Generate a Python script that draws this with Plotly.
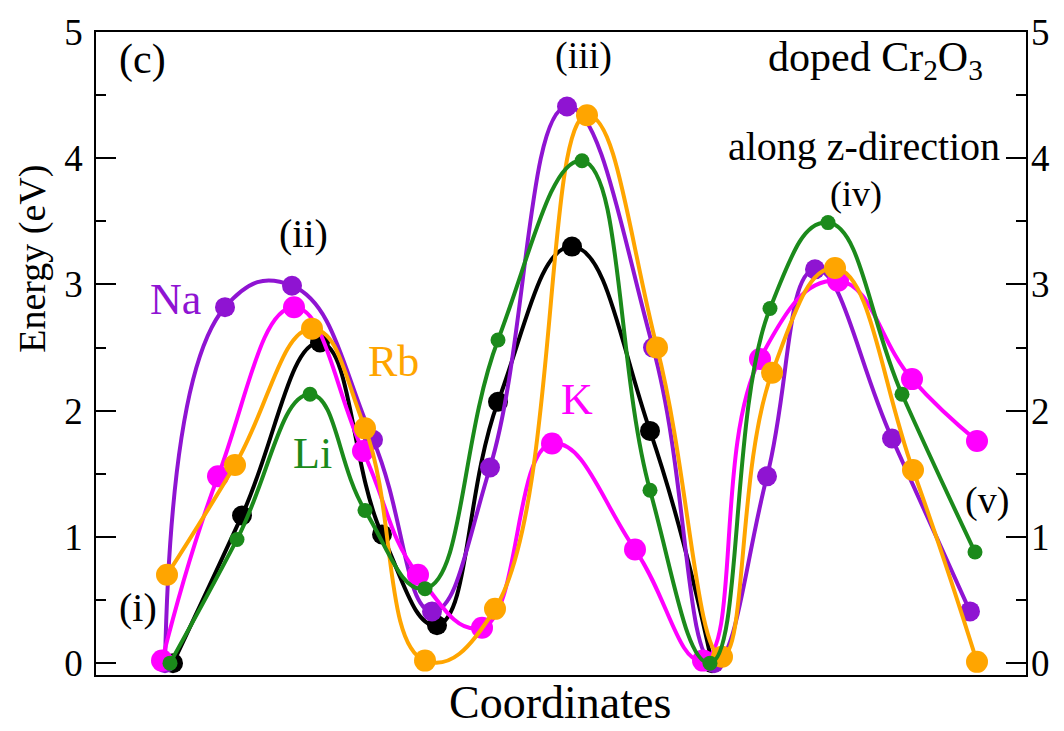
import plotly.graph_objects as go

# ---- data (reaction coordinate in arbitrary units, energy in eV) ----
black_x = [0.77, 1.46, 2.24, 2.86, 3.41, 4.02, 4.76, 5.54, 6.16]
black_y = [0.00, 1.17, 2.54, 1.02, 0.30, 2.07, 3.30, 1.84, 0.00]

na_x = [0.69, 1.29, 1.96, 2.77, 3.36, 3.94, 4.71, 5.57, 6.18, 6.71, 7.19, 7.96, 8.74]
na_y = [0.00, 2.82, 2.99, 1.77, 0.41, 1.55, 4.41, 2.50, 0.00, 1.48, 3.12, 1.78, 0.41]

k_x = [0.66, 1.22, 1.98, 2.67, 3.22, 3.86, 4.56, 5.39, 6.07, 6.64, 7.42, 8.16, 8.81]
k_y = [0.02, 1.48, 2.82, 1.68, 0.70, 0.28, 1.74, 0.90, 0.02, 2.41, 3.03, 2.25, 1.76]

rb_x = [0.71, 1.39, 2.16, 2.69, 3.29, 3.99, 4.91, 5.61, 6.26, 6.76, 7.39, 8.17, 8.81]
rb_y = [0.70, 1.57, 2.65, 1.86, 0.02, 0.43, 4.34, 2.50, 0.05, 2.30, 3.13, 1.53, 0.01]

li_x = [0.74, 1.41, 2.14, 2.69, 3.29, 4.02, 4.86, 5.54, 6.14, 6.74, 7.32, 8.06, 8.79]
li_y = [0.00, 0.98, 2.13, 1.21, 0.59, 2.56, 3.98, 1.37, 0.00, 2.81, 3.49, 2.13, 0.88]

y_ticks = [0, 1, 2, 3, 4, 5]
y_range = [-0.094, 5.0]
x_range = [0.0, 9.30]

FONT = "Liberation Serif, Times New Roman, serif"
C_BLACK = "#000000"
C_NA = "#8f14d2"
C_K = "#ff00ff"
C_RB = "#ffa500"
C_LI = "#1b8a1b"

series = [
    ("undoped", black_x, black_y, C_BLACK, 20),
    ("Na", na_x, na_y, C_NA, 20),
    ("K", k_x, k_y, C_K, 22),
    ("Rb", rb_x, rb_y, C_RB, 22),
    ("Li", li_x, li_y, C_LI, 15),
]

fig = go.Figure()
for name, xs, ys, col, msize in series:
    fig.add_trace(go.Scatter(
        x=xs, y=ys, mode="lines+markers", name=name,
        line=dict(color=col, width=4, shape="spline", smoothing=1.3),
        marker=dict(color=col, size=msize),
        showlegend=False, cliponaxis=True,
    ))

# empty trace to carry the right-hand axis
fig.add_trace(go.Scatter(x=[], y=[], yaxis="y2", showlegend=False))

annots = [
    ("(c)", 0.46, 4.78, "black", 42),
    ("(i)", 0.42, 0.44, "black", 40),
    ("(ii)", 2.07, 3.40, "black", 40),
    ("(iii)", 4.87, 4.81, "black", 38),
    ("(iv)", 7.60, 3.72, "black", 36),
    ("(v)", 8.91, 1.29, "black", 38),
    ("Na", 0.79, 2.88, C_NA, 44),
    ("Rb", 2.97, 2.39, C_RB, 44),
    ("Li", 2.16, 1.66, C_LI, 44),
    ("K", 4.81, 2.09, C_K, 44),
    ("doped Cr<sub>2</sub>O<sub>3</sub>", 7.79, 4.78, "black", 42),
    ("along z-direction", 7.68, 4.09, "black", 40),
]
for txt, ax_, ay_, col, fs in annots:
    fig.add_annotation(x=ax_, y=ay_, xref="x", yref="y", text=txt, showarrow=False,
                       xanchor="center", yanchor="middle",
                       font=dict(family=FONT, size=fs, color=col))

fig.add_annotation(x=0.499, y=-0.043, xref="paper", yref="paper", text="Coordinates",
                   xanchor="center", yanchor="middle",
                   showarrow=False, font=dict(family=FONT, size=46, color="black"))
fig.add_annotation(x=-0.068, y=0.647, xref="paper", yref="paper", text="Energy (eV)",
                   xanchor="center", yanchor="middle",
                   textangle=-90, showarrow=False,
                   font=dict(family=FONT, size=38, color="black"))

axis_common = dict(range=y_range, tickmode="array", tickvals=y_ticks,
                   ticks="inside", ticklen=20, tickwidth=1.5, tickcolor="black",
                   minor=dict(ticks="inside", ticklen=10, tickwidth=1.5, dtick=0.5,
                              tick0=0, tickcolor="black"),
                   showgrid=False, zeroline=False,
                   tickfont=dict(family=FONT, size=37, color="black"))

fig.update_layout(
    width=1064, height=731,
    margin=dict(l=96, r=38, t=23, b=56),
    paper_bgcolor="white", plot_bgcolor="white",
    xaxis=dict(range=x_range, showticklabels=False, ticks="", showgrid=False,
               zeroline=False, showline=True, mirror=True, linecolor="black",
               linewidth=1.5),
    yaxis=dict(**axis_common, showline=True, mirror=True, linecolor="black",
               linewidth=1.5, side="left", ticklabelstandoff=4),
    yaxis2=dict(**axis_common, overlaying="y", side="right", anchor="x",
                showline=False, ticklabelstandoff=4),
)

fig.write_html("out.html", config={"displayModeBar": False},
               post_script="document.body.style.margin='0';document.body.style.overflow='hidden';")
